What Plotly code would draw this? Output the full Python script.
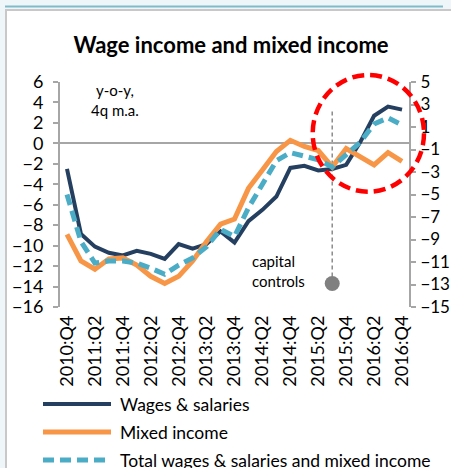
import plotly.graph_objects as go

# Quarterly categories and series (y-o-y %, 4-quarter moving average)
quarters = [
    "2010:Q4", "2011:Q1", "2011:Q2", "2011:Q3", "2011:Q4",
    "2012:Q1", "2012:Q2", "2012:Q3", "2012:Q4",
    "2013:Q1", "2013:Q2", "2013:Q3", "2013:Q4",
    "2014:Q1", "2014:Q2", "2014:Q3", "2014:Q4",
    "2015:Q1", "2015:Q2", "2015:Q3", "2015:Q4",
    "2016:Q1", "2016:Q2", "2016:Q3", "2016:Q4",
]
wages = [-2.5, -8.85, -10.1, -10.7, -10.95, -10.5, -10.8, -11.3, -9.85, -10.3,
         -9.85, -8.6, -9.7, -7.6, -6.5, -5.2, -2.4, -2.2, -2.65, -2.5,
         -2.1, 0.1, 2.7, 3.6, 3.3]
mixed = [-8.9, -11.5, -12.3, -11.3, -11.2, -11.9, -13.0, -13.7, -13.0, -11.5,
         -9.6, -7.9, -7.4, -4.4, -2.6, -0.8, 0.3, -0.3, -0.7, -2.3,
         -0.5, -1.25, -2.1, -0.9, -1.75]
total = [-5.0, -9.6, -11.7, -11.5, -11.5, -11.7, -12.2, -12.8, -11.9, -11.2,
         -10.1, -8.4, -9.1, -6.3, -4.0, -1.7, -0.9, -1.3, -1.6, -2.3,
         -1.1, 0.1, 1.9, 2.5, 1.8]

series_names = ["Wages & salaries", "Mixed income",
                "Total wages & salaries and mixed income"]

# Capital controls marker
event_quarter = "2015:Q3"
event_top = 3.3
event_bottom = -13.7

# Axis ticks
left_ticks = [6, 4, 2, 0, -2, -4, -6, -8, -10, -12, -14, -16]
right_ticks = [5, 3, 1, -1, -3, -5, -7, -9, -11, -13, -15]
x_ticks = quarters[::2]

NAVY = "#243F60"
ORANGE = "#F79646"
TEAL = "#4BACC6"
GRAY = "#A6A6A6"
FONT = "Lato, 'Liberation Sans', sans-serif"

W, H = 451, 468
L, R, T, B = 60, 42, 82, 161
PW, PH = W - L - R, H - T - B


def px(x):
    return (x - L) / PW


def py(y):
    return (H - B - y) / PH


styles = [
    dict(color=NAVY, width=4),
    dict(color=ORANGE, width=5),
    dict(color=TEAL, width=5, dash="11px,6px"),
]

fig = go.Figure()
for name, vals, st in zip(series_names, [wages, mixed, total], styles):
    fig.add_trace(go.Scatter(x=quarters, y=vals, mode="lines", name=name,
                             line=st, showlegend=False, cliponaxis=False))

# Event dot
fig.add_trace(go.Scatter(x=[event_quarter], y=[event_bottom], mode="markers",
                         marker=dict(size=15, color="#808080"),
                         showlegend=False, cliponaxis=False))

# Secondary axis carrier
fig.add_trace(go.Scatter(x=[quarters[0]], y=[None], yaxis="y2",
                         mode="lines", showlegend=False, hoverinfo="skip"))

shapes = []
# Frame around the chart area
shapes.append(dict(type="rect", xref="paper", yref="paper",
                   x0=px(0), x1=px(W), y0=py(9.5), y1=py(0),
                   fillcolor="#EEF6F9", line=dict(width=0), layer="below"))
shapes.append(dict(type="rect", xref="paper", yref="paper",
                   x0=px(0), x1=px(5), y0=py(H), y1=py(0),
                   fillcolor="#EEF6F9", line=dict(width=0), layer="below"))
shapes.append(dict(type="line", xref="paper", yref="paper",
                   x0=px(5), x1=px(443), y0=py(6.5), y1=py(6.5),
                   line=dict(color="#80BBCB", width=2)))
shapes.append(dict(type="line", xref="paper", yref="paper",
                   x0=px(5), x1=px(W), y0=py(10), y1=py(10),
                   line=dict(color="#C8C8C8", width=2)))
shapes.append(dict(type="line", xref="paper", yref="paper",
                   x0=px(6), x1=px(6), y0=py(10), y1=py(H),
                   line=dict(color="#C8C8C8", width=2)))

# Capital controls vertical line
shapes.append(dict(type="line", xref="x", yref="y",
                   x0=quarters.index(event_quarter), x1=quarters.index(event_quarter),
                   y0=event_bottom, y1=event_top,
                   line=dict(color="#8C8C8C", width=1.5, dash="4px,3px"),
                   layer="below"))

# Highlight circle
shapes.append(dict(type="circle", xref="paper", yref="paper",
                   x0=px(312.7), x1=px(424), y0=py(191.7), y1=py(75),
                   line=dict(color="#FF0000", width=4.5, dash="12px,6px")))

# Custom legend
legend_y = [404, 432, 460]
for name, st, ly in zip(series_names, styles, legend_y):
    shapes.append(dict(type="line", xref="paper", yref="paper",
                       x0=px(43), x1=px(111), y0=py(ly), y1=py(ly),
                       line=st))

annotations = []
for name, ly in zip(series_names, legend_y):
    annotations.append(dict(xref="paper", yref="paper", x=px(118), y=py(ly),
                            text=name, showarrow=False, xanchor="left",
                            yanchor="middle",
                            font=dict(family=FONT, size=17.5, color="#000000")))

annotations.append(dict(xref="paper", yref="paper", x=px(115), y=py(100),
                        text="y-o-y,<br>4q m.a.", showarrow=False,
                        xanchor="center", yanchor="middle", align="center",
                        font=dict(family=FONT, size=15, color="#000000")))
annotations.append(dict(xref="paper", yref="paper", x=px(250), y=py(271),
                        text="capital<br>controls", showarrow=False,
                        xanchor="left", yanchor="middle", align="left",
                        font=dict(family=FONT, size=15, color="#000000")))

fig.update_layout(
    width=W, height=H,
    margin=dict(l=L, r=R, t=T, b=B, autoexpand=False),
    paper_bgcolor="#FFFFFF", plot_bgcolor="#FFFFFF",
    title=dict(text="<b>Wage income and mixed income</b>", x=231 / W,
               xanchor="center", y=1 - 45 / H, yanchor="middle",
               xref="container", yref="container", automargin=False,
               font=dict(family=FONT, size=22, color="#000000")),
    xaxis=dict(type="category", range=[-0.5, len(quarters) - 0.5],
               tickvals=x_ticks, ticktext=x_ticks, tickangle=-90,
               showgrid=False, showline=False, zeroline=False, ticks="",
               automargin=False, ticklabelstandoff=4,
               tickfont=dict(family=FONT, size=18, color="#000000")),
    yaxis=dict(range=[-16, 6], tickvals=left_ticks, showgrid=False,
               zeroline=True, zerolinecolor=GRAY, zerolinewidth=1.5,
               showline=True, linecolor=GRAY, linewidth=2,
               ticks="outside", ticklen=5, tickcolor=GRAY, tickwidth=2,
               ticklabelstandoff=6, automargin=False,
               tickfont=dict(family=FONT, size=18, color="#000000")),
    yaxis2=dict(range=[-15, 5], tickvals=right_ticks, overlaying="y",
                side="right", showgrid=False, zeroline=False,
                showline=True, linecolor=GRAY, linewidth=2,
                ticks="outside", ticklen=5, tickcolor=GRAY, tickwidth=2,
                ticklabelstandoff=1, automargin=False,
                tickfont=dict(family=FONT, size=17, color="#000000")),
    shapes=shapes,
    annotations=annotations,
    showlegend=False,
)

fig.write_html("out.html")
